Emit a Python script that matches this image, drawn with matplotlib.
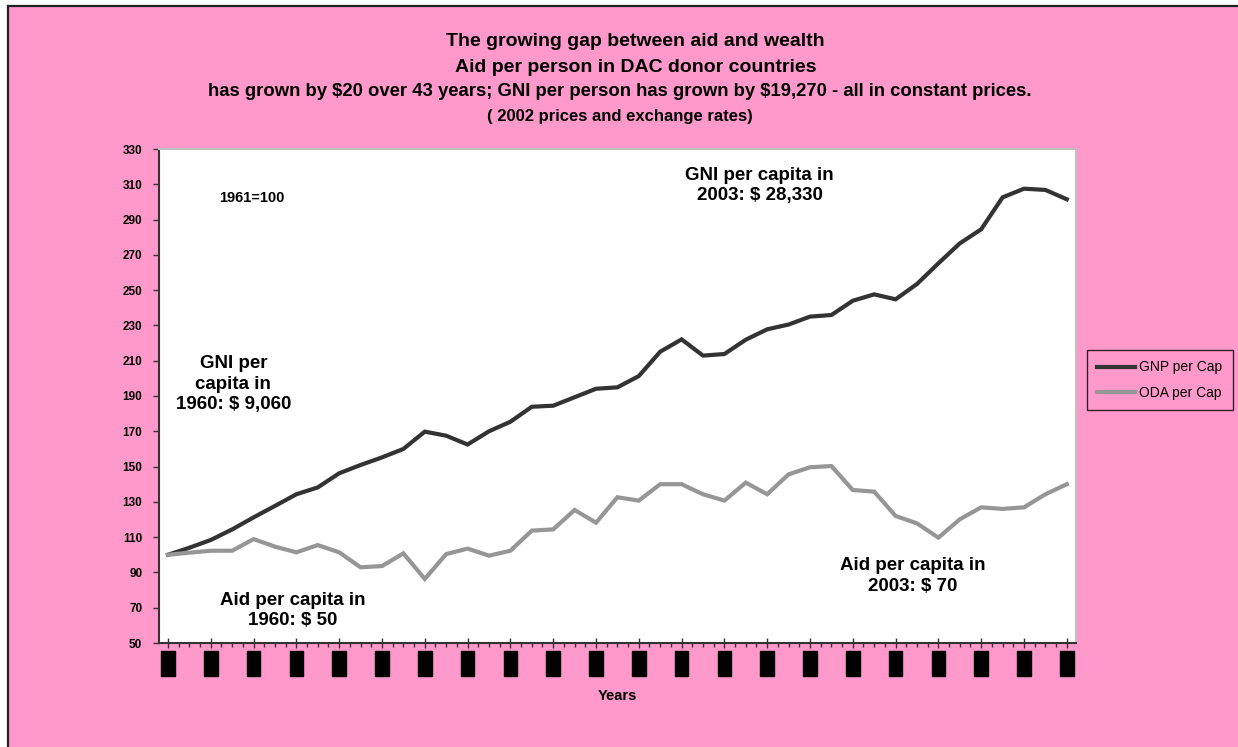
import matplotlib
matplotlib.use("Agg")
import matplotlib.pyplot as plt
from matplotlib.patches import Rectangle
from matplotlib.lines import Line2D
from matplotlib.ticker import MultipleLocator

plt.rcParams['font.family'] = ['Liberation Sans', 'DejaVu Sans']
plt.rcParams['text.parse_math'] = False

years = list(range(1961, 2004))
gnp_per_cap = [100, 104.0, 108.4, 114.4, 121.2, 127.7, 134.3, 138.2, 146.2, 150.9,
               155.2, 160.0, 169.8, 167.5, 162.5, 170.0, 175.4, 183.9, 184.5, 189.3,
               194.1, 194.9, 201.3, 215.1, 222.1, 212.9, 213.8, 221.9, 227.8, 230.5,
               235.0, 235.9, 244.0, 247.6, 244.8, 253.5, 265.2, 276.5, 284.5, 302.6,
               307.5, 306.8, 301.5]
oda_per_cap = [100, 101.2, 102.3, 102.3, 108.9, 104.6, 101.4, 105.5, 101.4, 92.9,
               93.6, 100.8, 86.3, 100.4, 103.5, 99.5, 102.3, 113.7, 114.4, 125.4,
               118.2, 132.6, 130.7, 140.0, 140.0, 134.3, 130.7, 140.9, 134.3, 145.6,
               149.6, 150.3, 136.7, 135.8, 122.0, 117.8, 109.7, 120.1, 126.9, 126.0,
               126.9, 134.3, 140.0]
series_names = ["GNP per Cap", "ODA per Cap"]
yticks = list(range(50, 331, 20))
title_lines = ["The growing gap between aid and wealth",
               "Aid per person in DAC donor countries",
               "has grown by $20 over 43 years; GNI per person has grown by $19,270 - all in constant prices.",
               "( 2002 prices and exchange rates)"]

W, H = 1238, 747
PINK = '#FF99CC'
fig = plt.figure(figsize=(W / 100, H / 100), dpi=100)
fig.patch.set_facecolor('white')

def fx(px):
    return px / W

def fy(py):
    return 1 - py / H

# pink chart area with border on left/top
fig.patches.append(Rectangle((fx(8), 0), 1.0, fy(6), transform=fig.transFigure,
                             facecolor=PINK, edgecolor='none', zorder=-10))
fig.lines.append(Line2D([fx(8), fx(8)], [0, fy(6)], transform=fig.transFigure,
                        color='#222222', lw=1.6))
fig.lines.append(Line2D([fx(8), 1.0], [fy(6), fy(6)], transform=fig.transFigure,
                        color='#222222', lw=1.6))

ax = fig.add_axes([fx(159), fy(643), fx(1076) - fx(159), fy(149) - fy(643)])
ax.set_facecolor('white')

x = list(range(len(years)))
ax.plot(x, gnp_per_cap, color='#333333', lw=3, label=series_names[0], solid_joinstyle='miter')
ax.plot(x, oda_per_cap, color='#969696', lw=3, label=series_names[1], solid_joinstyle='miter')

ax.set_xlim(-0.42, len(years) - 1 + 0.43)
ax.set_ylim(50, 330)
ax.set_yticks(yticks)
ax.set_yticklabels([str(v) for v in yticks], fontsize=8.5, fontweight='bold')
ax.tick_params(axis='y', length=4, width=1, color='#333333', pad=8)

major_pos = x[::2]
ax.set_xticks(major_pos)
ax.set_xticklabels([str(years[i]) for i in major_pos], rotation=90, fontsize=6.5,
                   color='black', va='top')
ax.xaxis.set_minor_locator(MultipleLocator(0.5))
ax.tick_params(axis='x', which='major', direction='inout', length=7, width=1,
               color='#333333', pad=4)
ax.tick_params(axis='x', which='minor', direction='out', length=3, width=1,
               color='#333333')
for lbl in ax.get_xticklabels():
    lbl.set_bbox(dict(facecolor='black', edgecolor='black', pad=1.7))

for side in ['left', 'bottom']:
    ax.spines[side].set_color('#333333')
    ax.spines[side].set_linewidth(1.5)
for side in ['top', 'right']:
    ax.spines[side].set_color('#C0C0C0')
    ax.spines[side].set_linewidth(1.5)

ax.set_xlabel('Years', fontsize=10.5, fontweight='bold', labelpad=11)

# annotations
ax.text(3.9, 302.2, '1961=100', fontsize=10.5, fontweight='bold', ha='center', va='center')
ax.text(3.05, 196.8, 'GNI per\ncapita in\n1960: $ 9,060', fontsize=13.5, fontweight='bold',
        ha='center', va='center', linespacing=1.3)
ax.text(27.65, 309.3, 'GNI per capita in\n2003: $ 28,330', fontsize=13.5, fontweight='bold',
        ha='center', va='center', linespacing=1.3)
ax.text(5.84, 68.4, 'Aid per capita in\n1960: $ 50', fontsize=13.5, fontweight='bold',
        ha='center', va='center', linespacing=1.3)
ax.text(34.8, 88.0, 'Aid per capita in\n2003: $ 70', fontsize=13.5, fontweight='bold',
        ha='center', va='center', linespacing=1.3)

# titles
fig.text(fx(635), fy(42), title_lines[0], fontsize=14, fontweight='bold', ha='center', va='center')
fig.text(fx(636), fy(67), title_lines[1], fontsize=14, fontweight='bold', ha='center', va='center')
fig.text(fx(620), fy(92), title_lines[2], fontsize=13.3, fontweight='bold', ha='center', va='center')
fig.text(fx(620), fy(116), title_lines[3], fontsize=12, fontweight='bold', ha='center', va='center')

leg = fig.legend(loc='upper left', bbox_to_anchor=(fx(1087), fy(350)), fontsize=10,
                 frameon=True, fancybox=False, handlelength=2.7, handletextpad=0.3,
                 borderpad=0.75, labelspacing=0.8, borderaxespad=0)
leg.get_frame().set_edgecolor('black')
leg.get_frame().set_facecolor(PINK)
leg.get_frame().set_linewidth(1)

fig.savefig('out.png', dpi=100, facecolor=fig.get_facecolor())
